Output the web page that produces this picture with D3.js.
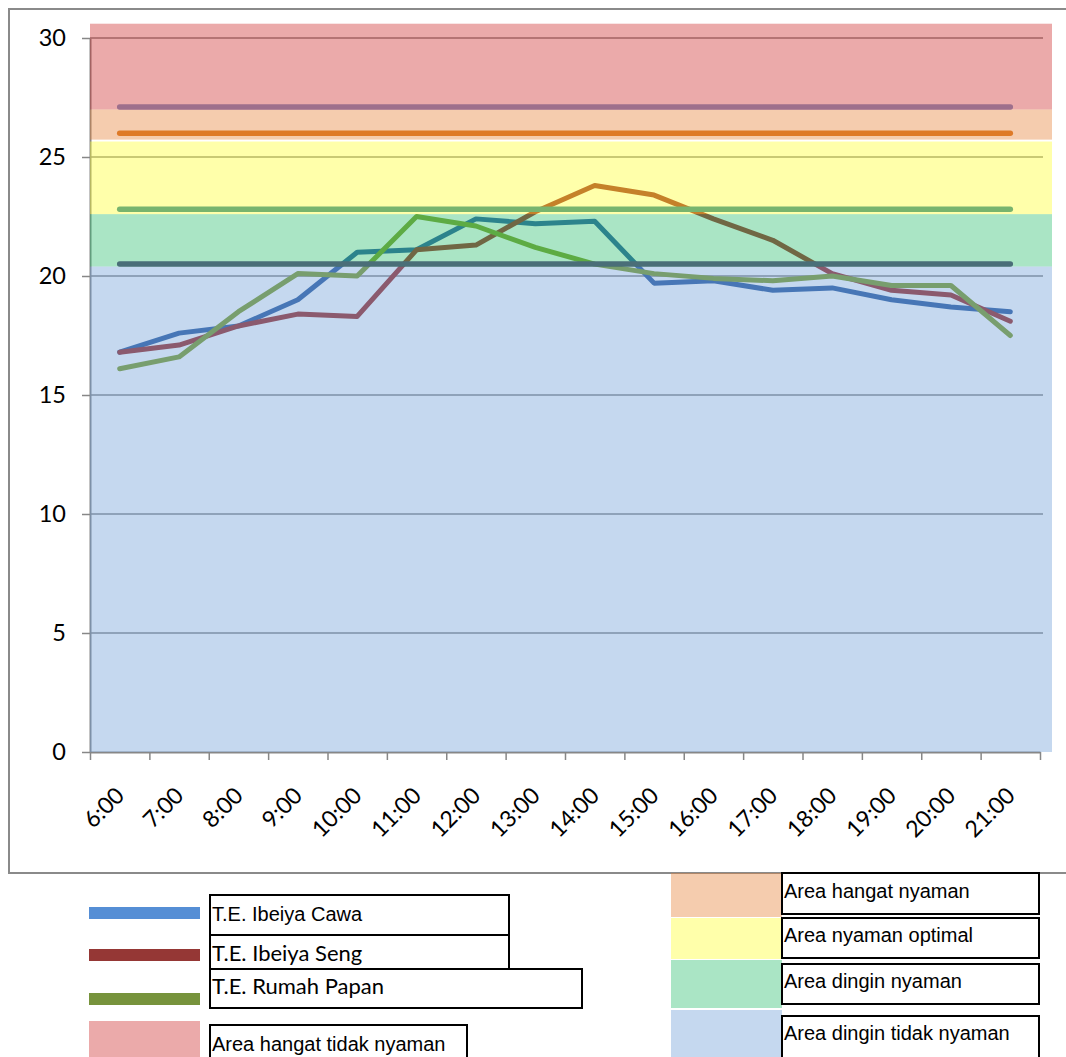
<!DOCTYPE html>
<html>
<head>
<meta charset="utf-8">
<script src="https://cdn.jsdelivr.net/npm/d3@7/dist/d3.min.js"></script>
<style>
  html, body { margin: 0; padding: 0; background: #fff; }
  svg { display: block; }
</style>
</head>
<body>
<svg id="chart" width="1066" height="1057"></svg>
<script>
// Hourly effective temperature (T.E.) readings for three houses
const hours = ["6:00","7:00","8:00","9:00","10:00","11:00","12:00","13:00",
               "14:00","15:00","16:00","17:00","18:00","19:00","20:00","21:00"];
const ibeiyaCawa = [16.8,17.6,17.9,19.0,21.0,21.1,22.4,22.2,22.3,19.7,19.8,19.4,19.5,19.0,18.7,18.5];
const ibeiyaSeng = [16.8,17.1,17.9,18.4,18.3,21.1,21.3,22.7,23.8,23.4,22.4,21.5,20.1,19.4,19.2,18.1];
const rumahPapan = [16.1,16.6,18.5,20.1,20.0,22.5,22.1,21.2,20.5,20.1,19.9,19.8,20.0,19.6,19.6,17.5];
const seriesNames = ["T.E. Ibeiya Cawa", "T.E. Ibeiya Seng", "T.E. Rumah Papan"];

// Comfort thresholds drawn as flat reference lines
const thresholds = [27.1, 26.0, 22.8, 20.5];

// Comfort zones (lower / upper bounds)
const zoneNames = ["Area dingin tidak nyaman", "Area dingin nyaman", "Area nyaman optimal",
                   "Area hangat nyaman", "Area hangat tidak nyaman"];
const zoneLow  = [0, 20.4, 22.6, 25.73, 27.0];
const zoneHigh = [20.4, 22.6, 25.65, 27.0, 30.6];

const yTicks = [0, 5, 10, 15, 20, 25, 30];

// ---- styles ----
const seriesColors = ["#2D5DA0", "#9E2D28", "#7F9E28"];     // lines lie beneath the translucent zones
const legendLineColors = ["#558ED5", "#953735", "#77933C"];
const thresholdColors = ["#9E6F8C", "#DE7A28", "#78B46E", "#4A6E78"];
const zoneColors = ["#6E9ED7", "#2BBE6E", "#FFFF2B", "#E68035", "#CD2B2B"];
const zoneOpacity = 0.4;
const gridColor = "#878787";
const axisFont = "Lato, 'Open Sans', sans-serif";
const legendFont = "'Liberation Sans', Arial, sans-serif";

const svg = d3.select("#chart");

// outer chart frame
svg.append("rect")
  .attr("x", 9).attr("y", 9).attr("width", 1080).attr("height", 864)
  .attr("fill", "none").attr("stroke", "#8a8a8a").attr("stroke-width", 2);

const plotL = 90, plotR = 1040, plotT = 38, plotB = 752;
const x = d3.scaleBand().domain(hours).range([plotL, plotR]).padding(0);
const xEdge = d3.scaleLinear().domain([0, hours.length]).range([plotL, plotR]);
const y = d3.scaleLinear().domain([0, 30]).range([plotB, plotT]);
const cx = h => x(h) + x.bandwidth() / 2;

// gridlines
svg.append("g").selectAll("line").data(yTicks.filter(v => v > 0)).join("line")
  .attr("x1", plotL).attr("x2", plotR + 3)
  .attr("y1", d => y(d)).attr("y2", d => y(d))
  .attr("stroke", gridColor).attr("stroke-width", 1.5);

// y axis
const yAxis = svg.append("g").attr("transform", `translate(${plotL},0)`)
  .call(d3.axisLeft(y).tickValues(yTicks).tickSize(8).tickPadding(16).tickSizeOuter(0));
yAxis.select(".domain").attr("stroke", gridColor).attr("stroke-width", 2);
yAxis.selectAll(".tick line").attr("stroke", gridColor).attr("stroke-width", 1.5);
yAxis.selectAll(".tick text").attr("font-family", axisFont).attr("font-size", 23.5).attr("fill", "#000");

// x axis (ticks on category boundaries)
const xAxis = svg.append("g").attr("transform", `translate(0,${plotB})`)
  .call(d3.axisBottom(xEdge).tickValues(d3.range(hours.length + 1)).tickSize(8)
        .tickFormat("").tickSizeOuter(0));
xAxis.select(".domain").attr("stroke", gridColor).attr("stroke-width", 2);
xAxis.selectAll(".tick line").attr("stroke", gridColor).attr("stroke-width", 1.5);

svg.append("g").selectAll("text").data(hours).join("text")
  .attr("transform", d => `translate(${cx(d) + 6},${plotB + 45}) rotate(-45)`)
  .attr("text-anchor", "end")
  .attr("font-family", axisFont).attr("font-size", 23).attr("fill", "#000")
  .text(d => d);

// data lines
const line = d3.line().x((d, i) => cx(hours[i])).y(d => y(d));
svg.append("g").selectAll("path").data([ibeiyaCawa, ibeiyaSeng, rumahPapan]).join("path")
  .attr("d", d => line(d))
  .attr("fill", "none")
  .attr("stroke", (d, i) => seriesColors[i])
  .attr("stroke-width", 5)
  .attr("stroke-linejoin", "round")
  .attr("stroke-linecap", "round");

// translucent comfort zones
svg.append("g").selectAll("rect").data(zoneNames).join("rect")
  .attr("x", plotL).attr("width", 1052 - plotL)
  .attr("y", (d, i) => y(zoneHigh[i]))
  .attr("height", (d, i) => y(zoneLow[i]) - y(zoneHigh[i]))
  .attr("fill", (d, i) => zoneColors[i])
  .attr("fill-opacity", zoneOpacity);

// threshold lines
svg.append("g").selectAll("line").data(thresholds).join("line")
  .attr("x1", cx(hours[0])).attr("x2", cx(hours[hours.length - 1]))
  .attr("y1", d => y(d)).attr("y2", d => y(d))
  .attr("stroke", (d, i) => thresholdColors[i])
  .attr("stroke-width", 5.5)
  .attr("stroke-linecap", "round");

// ---- legend ----
const lg = svg.append("g");
function box(x0, y0, x1, y1) {
  lg.append("rect").attr("x", x0).attr("y", y0).attr("width", x1 - x0).attr("height", y1 - y0)
    .attr("fill", "#fff").attr("stroke", "#000").attr("stroke-width", 2);
}
function label(txt, x0, base, font, size) {
  lg.append("text").attr("x", x0).attr("y", base)
    .attr("font-family", font).attr("font-size", size).attr("fill", "#000").text(txt);
}

// series swatches
const lineSwatchY = [907, 949, 993];
lineSwatchY.forEach((yy, i) => {
  lg.append("rect").attr("x", 89).attr("y", yy).attr("width", 111).attr("height", 12)
    .attr("fill", legendLineColors[i]);
});
box(210, 895, 509, 935);
box(210, 935, 509, 969);
box(210, 969, 582, 1008);
label(seriesNames[0], 212, 921, legendFont, 20);
label(seriesNames[1], 212, 961, axisFont, 22);
label(seriesNames[2], 212, 994, axisFont, 22);

// zone swatches
function zoneSwatch(i, x0, y0, y1) {
  lg.append("rect").attr("x", x0).attr("y", y0).attr("width", 111).attr("height", y1 - y0)
    .attr("fill", zoneColors[i]).attr("fill-opacity", zoneOpacity);
}
zoneSwatch(4, 89, 1021, 1070);
box(210, 1025, 467, 1070);
label(zoneNames[4], 212, 1051, legendFont, 20);

zoneSwatch(3, 671, 873, 917);
zoneSwatch(2, 671, 918, 959);
zoneSwatch(1, 671, 960, 1008);
zoneSwatch(0, 671, 1010, 1070);
box(782, 873, 1039, 914);
box(782, 918, 1039, 958);
box(782, 964, 1039, 1004);
box(782, 1016, 1039, 1070);
label(zoneNames[3], 784, 898, legendFont, 20);
label(zoneNames[2], 784, 942, legendFont, 20);
label(zoneNames[1], 784, 988, legendFont, 20);
label(zoneNames[0], 784, 1040, legendFont, 20);
</script>
</body>
</html>
